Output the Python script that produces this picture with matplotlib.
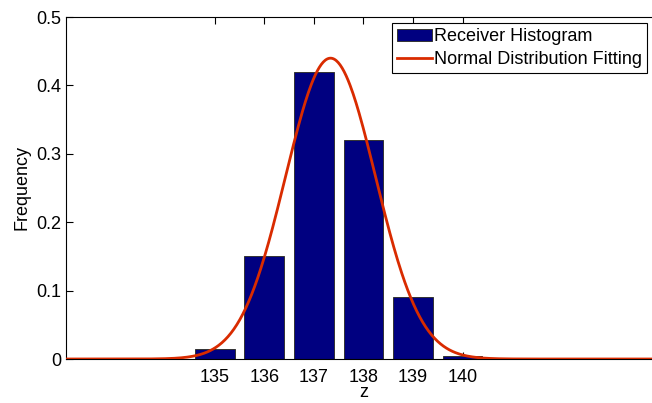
import numpy as np
import matplotlib.pyplot as plt

# Histogram data (bin centres and relative frequencies)
z_bins = [135, 136, 137, 138, 139, 140]
freq = [0.015, 0.15, 0.42, 0.32, 0.09, 0.005]

# Normal fit from the histogram
zb = np.array(z_bins, dtype=float)
fb = np.array(freq)
mu = np.sum(zb * fb) / np.sum(fb)
sigma = np.sqrt(np.sum(fb * (zb - mu) ** 2) / np.sum(fb))
zz = np.linspace(132, 144, 600)
pdf = np.exp(-0.5 * ((zz - mu) / sigma) ** 2) / (sigma * np.sqrt(2 * np.pi))

plt.rcParams['font.family'] = ['Liberation Sans', 'DejaVu Sans']
plt.rcParams['font.size'] = 13

fig = plt.figure(figsize=(6.52, 4.03), dpi=100)
ax = fig.add_axes([66 / 652, 44 / 403, 595 / 652, 342 / 403])

bars = ax.bar(z_bins, freq, width=0.8, color='#000080', edgecolor='#333333',
              linewidth=0.7, label='Receiver Histogram', zorder=2)
line, = ax.plot(zz, pdf, color='#d92b00', linewidth=2.0,
                label='Normal Distribution Fitting', zorder=3)

ax.set_xlim(132, 144)
ax.set_ylim(0, 0.5)
ax.set_xticks(z_bins)
ax.set_yticks([0, 0.1, 0.2, 0.3, 0.4, 0.5])
ax.set_yticklabels(['0', '0.1', '0.2', '0.3', '0.4', '0.5'])
ax.tick_params(direction='in', length=5, top=True, right=True, width=0.8)
ax.tick_params(axis='x', pad=7)
ax.set_xlabel('z', labelpad=-1)
ax.set_ylabel('Frequency', labelpad=4)

leg = ax.legend([bars, line], ['Receiver Histogram', 'Normal Distribution Fitting'],
                loc='upper left', bbox_to_anchor=(326 / 595, 1 - 6 / 342),
                fancybox=False, edgecolor='black', framealpha=1,
                borderpad=0.3, handlelength=1.9, handletextpad=0.12,
                labelspacing=0.3, borderaxespad=0)
leg.get_frame().set_linewidth(0.8)

plt.savefig('out.png', dpi=100)
